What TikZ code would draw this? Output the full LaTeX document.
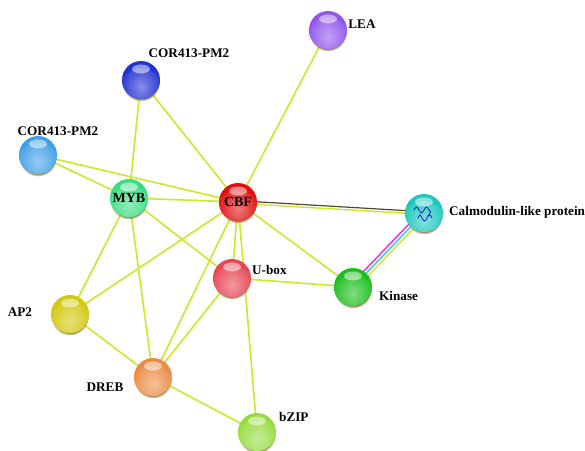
\documentclass[tikz,border=0pt]{standalone}
\usepackage{fontspec}
\setmainfont{Liberation Serif}
\usetikzlibrary{backgrounds,shadows,calc}
\definecolor{edgeY}{RGB}{205,232,40}
\definecolor{coexp}{RGB}{80,70,50}
\definecolor{expmag}{RGB}{240,40,220}
\definecolor{dbcyan}{RGB}{50,200,240}
\definecolor{cLEA}{RGB}{145,85,235}
\definecolor{cCORa}{RGB}{35,50,210}
\definecolor{cCORb}{RGB}{65,160,230}
\definecolor{cMYB}{RGB}{60,220,130}
\definecolor{cCBF}{RGB}{225,15,15}
\definecolor{cCAL}{RGB}{30,200,190}
\definecolor{cKIN}{RGB}{30,190,30}
\definecolor{cUBX}{RGB}{230,70,85}
\definecolor{cAP2}{RGB}{210,200,15}
\definecolor{cDREB}{RGB}{235,140,70}
\definecolor{cBZIP}{RGB}{150,220,65}
\definecolor{shadowc}{RGB}{120,95,30}
\begin{document}
\begin{tikzpicture}[x=1pt,y=-1pt,
  ball/.style={circle, minimum size=38pt, inner sep=0pt, fill=#1,
    font=\bfseries\fontsize{14}{14}\selectfont,
    circular drop shadow={shadow xshift=0pt, shadow yshift=-2.5pt, fill=shadowc, opacity=0.8, shadow scale=1.0},
    path picture={
      \shade[inner color=#1!55!white, outer color=#1] ([yshift=-10pt]path picture bounding box.center) circle (22pt);
      \fill[white, opacity=0.5] ([yshift=11pt]path picture bounding box.center) ellipse (9pt and 4.5pt);
    }},
  lab/.style={font=\bfseries\fontsize{13.2}{14}\selectfont, inner sep=0pt},
  link/.style={draw=edgeY, line width=1.6pt}]
\useasboundingbox (0,0) rectangle (585,450);

% nodes
\node[ball=cLEA]  (lea)  at (328,30) {};
\node[ball=cCORa] (cora) at (141,80) {};
\node[ball=cCORb] (corb) at (38,155) {};
\node[ball=cMYB]  (myb)  at (129,198) {MYB};
\node[ball=cCBF]  (cbf)  at (238,202) {CBF};
\node[ball=cCAL]  (cal)  at (424,213) {};
\node[ball=cKIN]  (kin)  at (353,287) {};
\node[ball=cUBX]  (ubx)  at (232,278) {};
\node[ball=cAP2]  (ap2)  at (70,314) {};
\node[ball=cDREB] (dreb) at (153,377) {};
\node[ball=cBZIP] (bzip) at (257,432) {};

% protein structure squiggle in calmodulin node
\draw[blue!75!black, line width=0.8pt, opacity=0.85, line cap=round]
  ($(cal)+(-10,-3)$) .. controls +(2,-4) and +(-2,-4) .. ++(5,0)
  .. controls +(2,4) and +(-2,4) .. ++(5,0)
  .. controls +(2,-4) and +(-2,-4) .. ++(5,0)
  .. controls +(3,2) and +(2,-4) .. ++(-1,6);
\draw[blue!75!black, line width=0.8pt, opacity=0.85, line cap=round]
  ($(cal)+(-6,5)$) .. controls +(2,-4) and +(-2,-4) .. ++(4,0)
  .. controls +(2,4) and +(-2,4) .. ++(5,0)
  .. controls +(2,-4) and +(-2,-4) .. ++(5,0);

% labels
\node[lab] (llea)  at (362,24) {LEA};
\node[lab] (lcora) at (189,53) {COR413-PM2};
\node[lab] (lcorb) at (58,131) {COR413-PM2};
\node[lab, anchor=west] (lcal) at (449,212) {Calmodulin-like protein};
\node[lab, anchor=west] (lkin) at (379,296) {Kinase};
\node[lab, anchor=west] (lubx) at (252,270) {U-box};
\node[lab] (lap2)  at (20,312) {AP2};
\node[lab] (ldreb) at (105,387) {DREB};
\node[lab, anchor=west] (lbzip) at (279,417) {bZIP};

% edges
\begin{pgfonlayer}{background}
\draw[link] (lea.center) -- (cbf.center);
\draw[link] (cora.center) -- (myb.center);
\draw[link] (cora.center) -- (cbf.center);
\draw[link] (corb.center) -- (myb.center);
\draw[link] (corb.center) -- (cbf.center);
\draw[link] (myb.center) -- (cbf.center);
\draw[link] (myb.center) -- (ubx.center);
\draw[link] (myb.center) -- (ap2.center);
\draw[link] (myb.center) -- (dreb.center);
\draw[link] (cbf.center) -- (kin.center);
\draw[link] (cbf.center) -- (ubx.center);
\draw[link] (cbf.center) -- (ap2.center);
\draw[link] (cbf.center) -- (dreb.center);
\draw[link] (cbf.center) -- (bzip.center);
\draw[link] (ubx.center) -- (kin.center);
\draw[link] (ubx.center) -- (dreb.center);
\draw[link] (dreb.center) -- (bzip.center);
\draw[link] (ap2.center) -- (dreb.center);
% CBF - calmodulin
\draw[draw=coexp, line width=1.2pt, transform canvas={yshift=1.3pt}] (cbf.center) -- (cal.center);
\draw[link, line width=1.4pt, transform canvas={yshift=-1.3pt}] (cbf.center) -- (cal.center);
% calmodulin - kinase
\draw[draw=expmag, line width=1.4pt, transform canvas={xshift=-2.3pt, yshift=2.2pt}] (cal.center) -- (kin.center);
\draw[draw=dbcyan, line width=1.4pt] (cal.center) -- (kin.center);
\draw[link, line width=1.4pt, transform canvas={xshift=2.3pt, yshift=-2.2pt}] (cal.center) -- (kin.center);
\end{pgfonlayer}
\end{tikzpicture}
\end{document}
